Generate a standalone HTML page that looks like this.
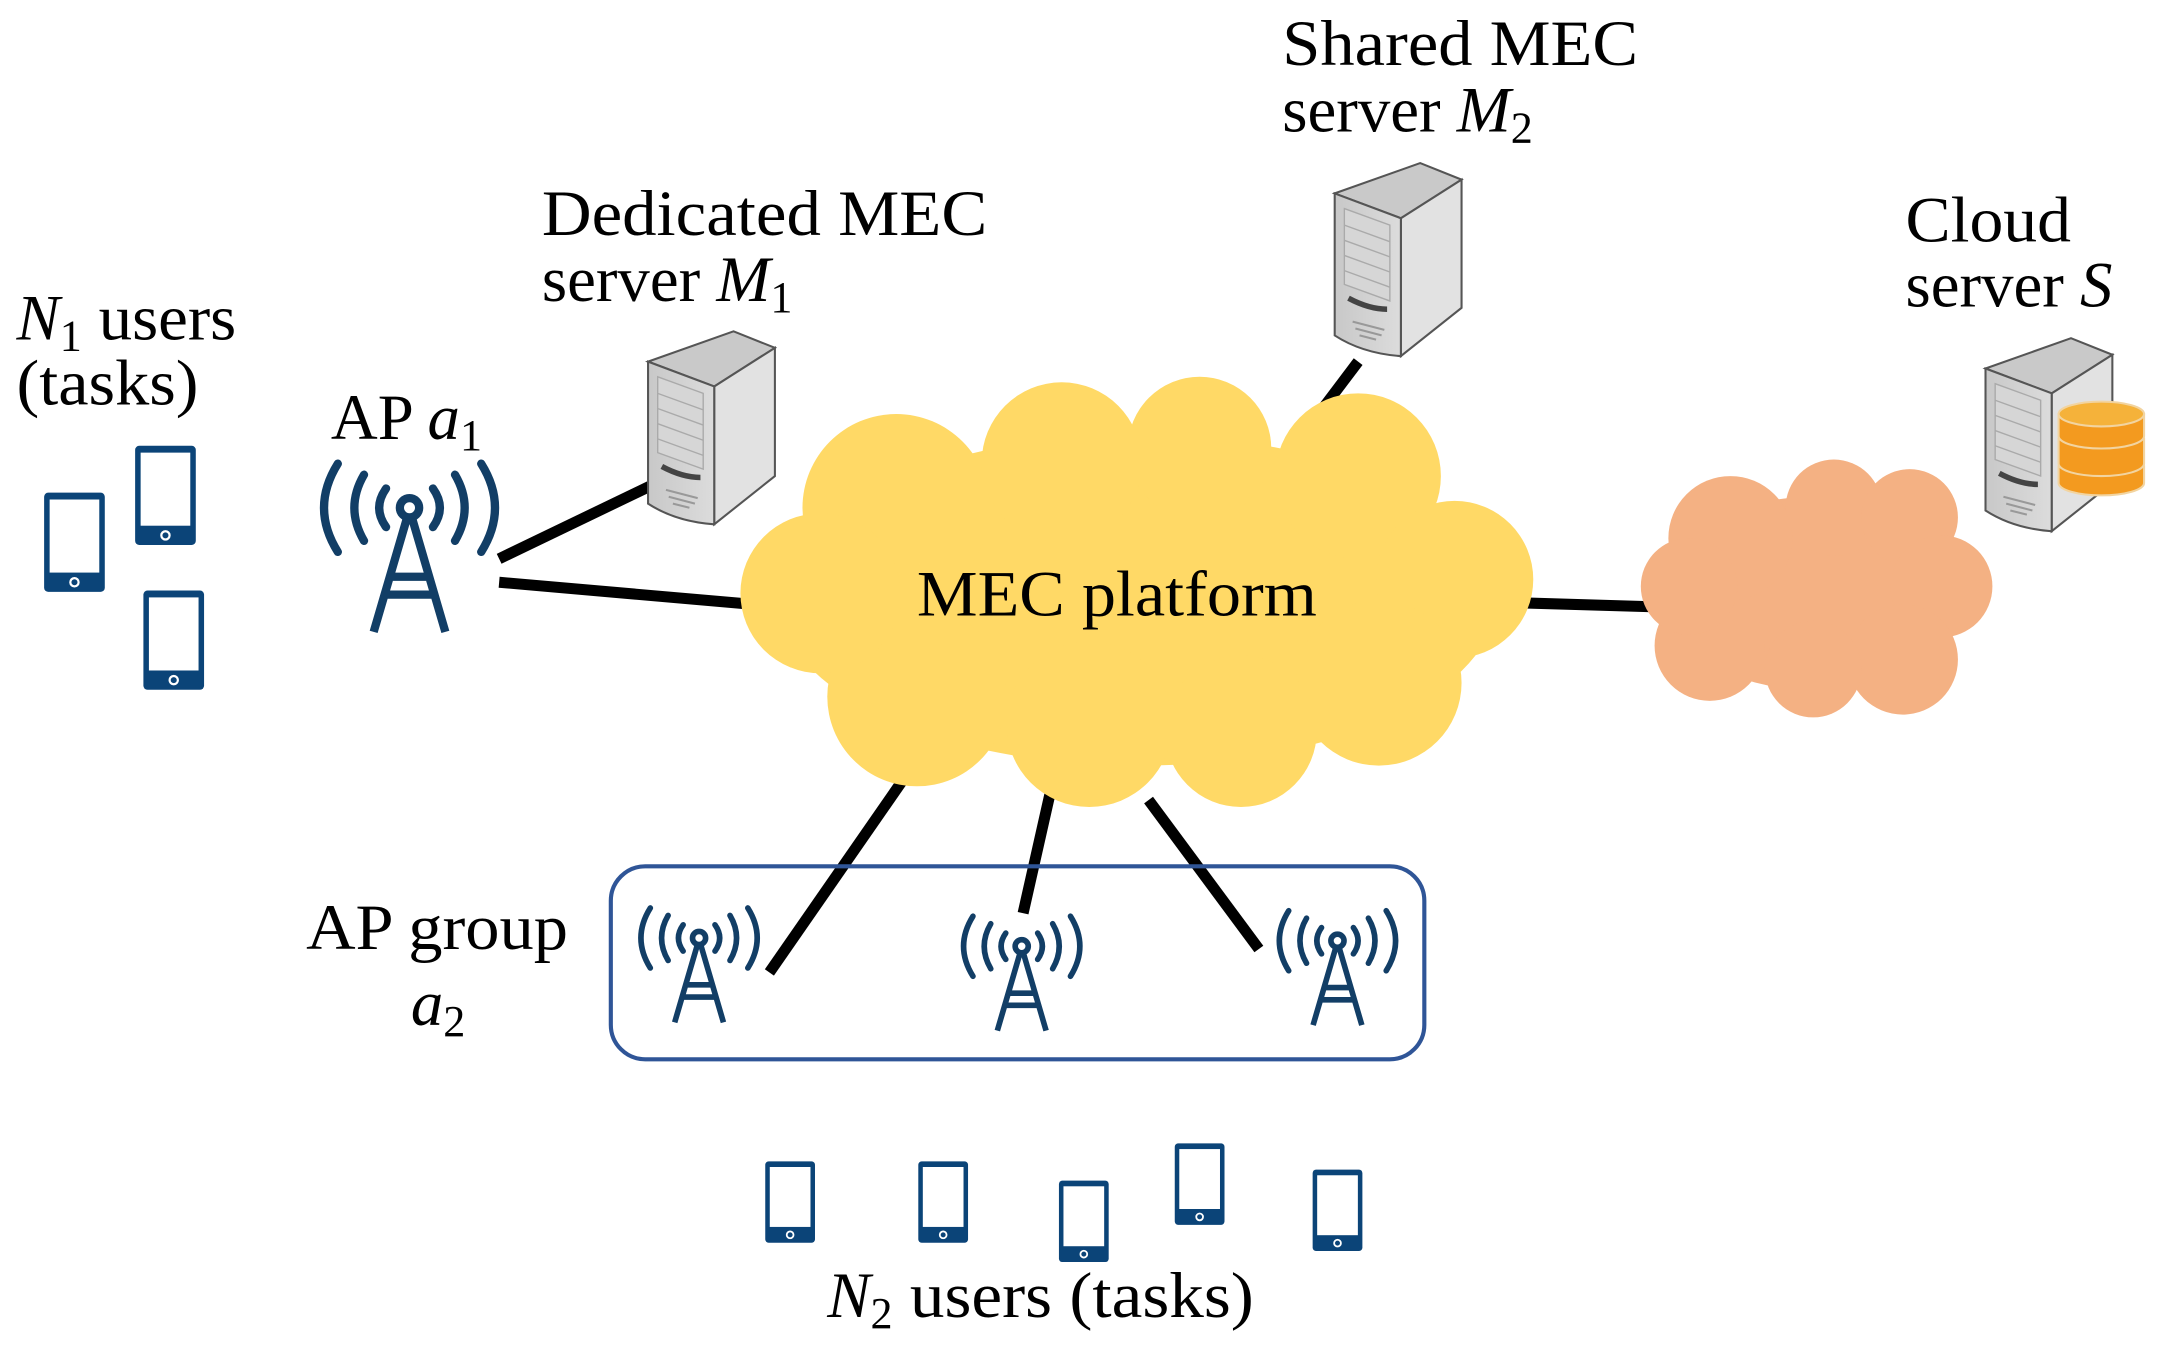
<!DOCTYPE html>
<html><head><meta charset="utf-8"><style>html,body{margin:0;padding:0;background:#fff}svg{display:block}</style></head>
<body>
<svg width="2162" height="1352" viewBox="0 0 1568 980" xmlns="http://www.w3.org/2000/svg" font-family="Liberation Serif, serif">
<defs>
<g id="tower" fill="none" stroke="#123e66" stroke-width="6" stroke-linecap="round">
<circle cx="0" cy="0" r="7"/>
<path d="M-2,8 L-26,90 M2,8 L26,90 M-12,50 L12,50 M-16,63 L16,63" stroke-linecap="butt"/>
<path d="M17,-14 Q27,0 17,14 M33,-24 Q47,0 33,24 M52,-32 Q72,0 52,32"/>
<path d="M-17,-14 Q-27,0 -17,14 M-33,-24 Q-47,0 -33,24 M-52,-32 Q-72,0 -52,32"/>
</g>
<g id="phone">
<rect x="0" y="0" width="44" height="72" rx="3" fill="#0b4478"/>
<rect x="4" y="5" width="36" height="53" fill="#fff"/>
<circle cx="22" cy="65" r="3" fill="none" stroke="#fff" stroke-width="1.6"/>
</g>
<linearGradient id="sf" x1="0" x2="1"><stop offset="0" stop-color="#c8c8c8"/><stop offset="1" stop-color="#dcdcdc"/></linearGradient>
<g id="server" stroke="#555" stroke-width="1.5">
<path d="M0,22 L62,0 L92,12 L48,40 Z" fill="#c9c9c9"/>
<path d="M48,40 L92,12 L92,105 L48,140 Z" fill="#e2e2e2"/>
<path d="M0,22 L48,40 L48,140 Q20,138 0,125 Z" fill="url(#sf)"/>
<path d="M7,33 L40,45 L40,100 L7,88 Z" fill="#d6d6d6" stroke="#aaa" stroke-width="1"/>
<path d="M7,45 L40,57 M7,56 L40,68 M7,67 L40,79 M7,78 L40,90" stroke="#aaa" stroke-width="1"/>
<path d="M10,98 Q25,106 38,106" stroke="#444" stroke-width="4" fill="none"/>
<path d="M13,115 L36,121 M15,120 L34,125 M18,125 L30,128" stroke="#999" stroke-width="1.5"/>
</g>
</defs>

<g stroke="#000" stroke-width="8">
<line x1="362" y1="405" x2="472" y2="352"/>
<line x1="362" y1="422" x2="545" y2="438"/>
<line x1="945" y1="315" x2="985" y2="262"/>
<line x1="1105" y1="437" x2="1205" y2="440"/>
<line x1="660" y1="558" x2="558" y2="705"/>
<line x1="765" y1="560" x2="742" y2="662"/>
<line x1="833" y1="580" x2="913" y2="688"/>
</g>

<g fill="#ffd966">
<ellipse cx="825" cy="435" rx="260" ry="120"/>
<circle cx="650" cy="368" r="68"/>
<circle cx="770" cy="335" r="58"/>
<circle cx="870" cy="325" r="52"/>
<circle cx="985" cy="345" r="60"/>
<circle cx="1055" cy="420" r="57"/>
<circle cx="1000" cy="495" r="60"/>
<circle cx="900" cy="530" r="55"/>
<circle cx="790" cy="525" r="60"/>
<circle cx="665" cy="505" r="65"/>
<circle cx="595" cy="430" r="58"/>
</g>
<text x="665" y="446" font-size="47" textLength="290" lengthAdjust="spacingAndGlyphs">MEC platform</text>

<g fill="#f4b183">
<ellipse cx="1315" cy="430" rx="110" ry="70"/>
<circle cx="1255" cy="390" r="45"/>
<circle cx="1330" cy="368" r="35"/>
<circle cx="1385" cy="375" r="35"/>
<circle cx="1408" cy="425" r="37"/>
<circle cx="1380" cy="478" r="40"/>
<circle cx="1315" cy="485" r="35"/>
<circle cx="1240" cy="468" r="40"/>
<circle cx="1225" cy="425" r="35"/>
</g>

<use href="#server" x="470" y="240"/>
<use href="#server" x="968" y="118"/>
<use href="#server" x="1440" y="245"/>
<g stroke="#f2d4a0" stroke-width="1.5">
<path d="M1493,338 L1493,350 A31,9 0 0 0 1555,350 L1555,338 Z" fill="#f39a1f"/>
<path d="M1493,318 L1493,336 A31,9 0 0 0 1555,336 L1555,318 Z" fill="#f39a1f"/>
<path d="M1493,300 L1493,316 A31,9 0 0 0 1555,316 L1555,300 Z" fill="#f39a1f"/>
<ellipse cx="1524" cy="300" rx="31" ry="9" fill="#f5b23a"/>
</g>

<use href="#tower" x="297" y="368"/>
<g transform="translate(507,680) scale(0.68)"><use href="#tower"/></g>
<g transform="translate(741,686) scale(0.68)"><use href="#tower"/></g>
<g transform="translate(970,682) scale(0.68)"><use href="#tower"/></g>

<rect x="443" y="628" width="590" height="140" rx="25" fill="none" stroke="#2f5597" stroke-width="3"/>

<use href="#phone" x="32" y="357"/>
<use href="#phone" x="98" y="323"/>
<use href="#phone" x="104" y="428"/>
<g transform="translate(555,842) scale(0.82)"><use href="#phone"/></g>
<g transform="translate(666,842) scale(0.82)"><use href="#phone"/></g>
<g transform="translate(768,856) scale(0.82)"><use href="#phone"/></g>
<g transform="translate(852,829) scale(0.82)"><use href="#phone"/></g>
<g transform="translate(952,848) scale(0.82)"><use href="#phone"/></g>

<g font-size="47" fill="#000">
<text x="12" y="246"><tspan font-style="italic">N</tspan><tspan font-size="32" dy="8">1</tspan><tspan dy="-8" textLength="112" lengthAdjust="spacingAndGlyphs"> users</tspan></text>
<text x="12" y="293" textLength="132" lengthAdjust="spacingAndGlyphs">(tasks)</text>
<text x="240" y="318">AP <tspan font-style="italic">a</tspan><tspan font-size="32" dy="8">1</tspan></text>
<text x="393" y="170" textLength="323" lengthAdjust="spacingAndGlyphs">Dedicated MEC</text>
<text x="393" y="218">server <tspan font-style="italic">M</tspan><tspan font-size="32" dy="8">1</tspan></text>
<text x="930" y="47" textLength="258" lengthAdjust="spacingAndGlyphs">Shared MEC</text>
<text x="930" y="95">server <tspan font-style="italic">M</tspan><tspan font-size="32" dy="8">2</tspan></text>
<text x="1382" y="175" textLength="120" lengthAdjust="spacingAndGlyphs">Cloud</text>
<text x="1382" y="222">server <tspan font-style="italic">S</tspan></text>
<text x="222" y="688" textLength="190" lengthAdjust="spacingAndGlyphs">AP group</text>
<text x="298" y="743"><tspan font-style="italic">a</tspan><tspan font-size="32" dy="8">2</tspan></text>
<text x="600" y="955"><tspan font-style="italic">N</tspan><tspan font-size="32" dy="8">2</tspan><tspan dy="-8" textLength="262" lengthAdjust="spacingAndGlyphs"> users (tasks)</tspan></text>
</g>
</svg>
</body></html>
